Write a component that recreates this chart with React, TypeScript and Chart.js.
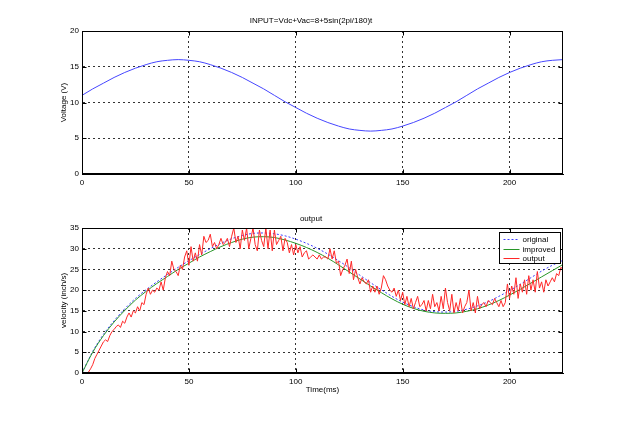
import React, { useEffect, useRef } from 'react';
import { Chart, registerables } from 'chart.js';

Chart.register(...registerables);

const FONT = '"Liberation Sans", Arial, Helvetica, sans-serif';

// ---------- data ----------
const sampleTimes = [0, 5, 10, 15, 20, 25, 30, 35, 40, 45, 50, 55, 60, 65, 70, 75, 80, 85, 90, 95, 100, 105, 110, 115, 120, 125, 130, 135, 140, 145, 150, 155, 160, 165, 170, 175, 180, 185, 190, 195, 200, 205, 210, 215, 220, 225];

const inputVoltage = [11.0, 11.9, 12.7, 13.5, 14.2, 14.8, 15.3, 15.7, 15.9, 16.0, 15.9, 15.7, 15.3, 14.8, 14.2, 13.5, 12.7, 11.9, 11.0, 10.1, 9.3, 8.5, 7.8, 7.2, 6.7, 6.3, 6.1, 6.0, 6.1, 6.3, 6.7, 7.2, 7.8, 8.5, 9.3, 10.1, 11.0, 11.9, 12.7, 13.5, 14.2, 14.8, 15.3, 15.7, 15.9, 16.0];

const originalVelocity = [0, 5.2, 9.3, 12.6, 15.5, 18.0, 20.1, 22.0, 23.8, 25.5, 27.1, 28.6, 30.0, 31.3, 32.4, 33.2, 33.7, 33.8, 33.6, 33.1, 32.3, 31.3, 30.1, 28.7, 27.1, 25.4, 23.6, 21.8, 20.1, 18.5, 17.1, 16.0, 15.2, 14.8, 14.7, 14.9, 15.4, 16.2, 17.2, 18.5, 19.9, 21.4, 23.0, 24.6, 26.0, 27.2];

const improvedVelocity = [0, 5.0, 9.0, 12.3, 15.1, 17.6, 19.7, 21.6, 23.3, 25.0, 26.5, 28.0, 29.3, 30.5, 31.5, 32.3, 32.8, 32.9, 32.7, 32.1, 31.3, 30.3, 29.1, 27.7, 26.1, 24.4, 22.7, 21.0, 19.4, 17.9, 16.6, 15.6, 14.9, 14.5, 14.4, 14.5, 14.9, 15.5, 16.4, 17.5, 18.8, 20.2, 21.7, 23.2, 24.7, 26.2];

const outputTimes = [
  0, 1, 2, 3, 4, 5, 6, 7, 8, 9, 10, 11, 12, 13, 14, 15, 16, 17, 18, 19,
  20, 21, 22, 23, 24, 25, 26, 27, 28, 29, 30, 31, 32, 33, 34, 35, 36, 37, 38, 39,
  40, 41, 42, 43, 44, 45, 46, 47, 48, 49, 50, 51, 52, 53, 54, 55, 56, 57, 58, 59,
  60, 61, 62, 63, 64, 65, 66, 67, 68, 69, 70, 71, 72, 73, 74, 75, 76, 77, 78, 79,
  80, 81, 82, 83, 84, 85, 86, 87, 88, 89, 90, 91, 92, 93, 94, 95, 96, 97, 98, 99,
  100, 101, 102, 103, 104, 105, 106, 107, 108, 109, 110, 111, 112, 113, 114, 115, 116, 117, 118, 119,
  120, 121, 122, 123, 124, 125, 126, 127, 128, 129, 130, 131, 132, 133, 134, 135, 136, 137, 138, 139,
  140, 141, 142, 143, 144, 145, 146, 147, 148, 149, 150, 151, 152, 153, 154, 155, 156, 157, 158, 159,
  160, 161, 162, 163, 164, 165, 166, 167, 168, 169, 170, 171, 172, 173, 174, 175, 176, 177, 178, 179,
  180, 181, 182, 183, 184, 185, 186, 187, 188, 189, 190, 191, 192, 193, 194, 195, 196, 197, 198, 199,
  200, 201, 202, 203, 204, 205, 206, 207, 208, 209, 210, 211, 212, 213, 214, 215, 216, 217, 218, 219,
  220, 221, 222, 223, 224, 225,
];

const outputVelocity = [
  0, 0, 0, 0.2, 1, 2, 3.5, 4.5, 5.5, 6.5, 7.5, 8, 7.6, 9, 10, 10.5, 11.2, 11.6, 11, 12.5,
  12, 13.5, 14.5, 13.5, 15, 14.5, 16, 15, 17, 16.5, 19, 20.5, 19, 20, 19.5, 20.5, 20, 22, 20, 23,
  24.5, 23.5, 27, 25, 24.5, 23.5, 26, 25, 28, 29.5, 26, 30.5, 27, 29, 27, 31, 28.5, 33, 31.5, 32,
  33.5, 30.5, 31.5, 30, 31, 32.5, 31, 31.5, 32.5, 30.5, 33, 35, 31.5, 33, 30, 34.5, 32, 35, 30, 32.5,
  35, 31, 29.5, 34.5, 32, 30.5, 35, 30, 34.5, 29.5, 34.5, 31, 32, 33, 29.5, 32.5, 31.5, 29, 31, 28.5,
  31, 29, 30.5, 28, 29, 29.5, 27.5, 28, 28.5, 28, 27.5, 28.5, 27.5, 28, 28, 27.5, 30, 27.5, 29.5, 26.5,
  27, 23.5, 25, 26, 27.5, 24, 27, 22.5, 25, 23, 21.5, 23, 22, 21.5, 22.5, 19.5, 21, 19.5, 21, 19,
  20.5, 23.5, 22.5, 21, 20, 19.5, 20.5, 18.5, 20, 17.5, 19.5, 16.5, 18.5, 16, 18, 15.5, 17, 18.5, 16, 16.5,
  17.5, 15, 17.5, 15.5, 19, 16, 17, 15, 18.5, 15.5, 20.5, 17, 15, 19, 14.5, 17, 15, 18, 14.5, 16,
  17, 20, 15, 17, 14.5, 18.5, 15.5, 16.5, 17, 16, 17.5, 17, 16.5, 18, 17, 16, 17.5, 16, 17, 21.5,
  18, 21, 19, 23, 18, 21.5, 19.5, 22.5, 19, 23.5, 20, 22.5, 19.5, 24.5, 20.5, 22, 19.5, 22.5, 21, 22,
  23, 22, 24, 23.5, 25.5, 25,
];

const voltageTicks = [0, 5, 10, 15, 20];
const velocityTicks = [0, 5, 10, 15, 20, 25, 30, 35];
const timeTicks = [0, 50, 100, 150, 200];

const legendLabels = ['original', 'improved', 'output'];

// ---------- helpers ----------
const pts = (xs: number[], ys: number[]) => ys.map((y, i) => ({ x: xs[i], y }));

const boxPlugin = {
  id: 'matlabBox',
  afterDraw(chart: any) {
    const { ctx, chartArea: a } = chart;
    ctx.save();
    ctx.strokeStyle = '#000';
    ctx.lineWidth = 1;
    ctx.setLineDash([]);
    const l = Math.round(a.left) + 0.5;
    const t = Math.round(a.top) + 0.5;
    const r = Math.round(a.right) - 0.5;
    const b = Math.round(a.bottom) - 0.5;
    ctx.strokeRect(l, t, r - l, b - t);
    const xs = chart.scales.x;
    const ys = chart.scales.y;
    ctx.beginPath();
    xs.ticks.forEach((tk: any) => {
      const px = Math.round(xs.getPixelForValue(tk.value)) + 0.5;
      ctx.moveTo(px, b); ctx.lineTo(px, b - 4);
      ctx.moveTo(px, t); ctx.lineTo(px, t + 4);
    });
    ys.ticks.forEach((tk: any) => {
      const py = Math.round(ys.getPixelForValue(tk.value)) + 0.5;
      ctx.moveTo(l, py); ctx.lineTo(l + 4, py);
      ctx.moveTo(r, py); ctx.lineTo(r - 4, py);
    });
    ctx.stroke();
    ctx.restore();
  },
};

const legendPlugin = {
  id: 'matlabLegend',
  afterDraw(chart: any, _args: any, opts: any) {
    if (!opts || !opts.show) return;
    const { ctx, chartArea: a } = chart;
    const w = 61, h = 31;
    const left = Math.round(a.right - 3 - w) + 0.5;
    const top = Math.round(a.top + 4) + 0.5;
    ctx.save();
    ctx.fillStyle = '#fff';
    ctx.fillRect(left, top, w, h);
    ctx.strokeStyle = '#000';
    ctx.lineWidth = 1;
    ctx.setLineDash([]);
    ctx.strokeRect(left, top, w, h);
    ctx.font = '8px ' + FONT;
    ctx.textBaseline = 'middle';
    ctx.fillStyle = '#000';
    const byLabel: any = {};
    chart.data.datasets.forEach((d: any) => { byLabel[d.label] = d; });
    legendLabels.forEach((lab, i) => {
      const d = byLabel[lab];
      const y = Math.round(top + 6.5 + i * 9.5) + 0.5;
      ctx.save();
      ctx.strokeStyle = d.borderColor;
      ctx.lineWidth = 1;
      ctx.setLineDash(d.borderDash || []);
      ctx.beginPath();
      ctx.moveTo(left + 4, y);
      ctx.lineTo(left + 20, y);
      ctx.stroke();
      ctx.restore();
      ctx.fillText(lab, left + 23, y);
    });
    ctx.restore();
  },
};

function scales(yTicks: number[], yMax: number, yTitle: string, xTitle: string | null, xHeight: number) {
  const tickFont = { size: 8, family: FONT, lineHeight: 1.25 };
  return {
    x: {
      type: 'linear' as const,
      min: 0,
      max: 225,
      afterBuildTicks: (s: any) => { s.ticks = timeTicks.map((v) => ({ value: v })); },
      afterFit: (s: any) => { s.height = xHeight; },
      grid: { color: '#333', lineWidth: 1, drawTicks: false },
      border: { display: true, color: '#000', dash: [2, 3] },
      ticks: { color: '#000', font: tickFont, padding: 4, maxRotation: 0, autoSkip: false },
      title: xTitle
        ? { display: true, text: xTitle, color: '#000', font: tickFont, padding: { top: 0, bottom: 0 } }
        : { display: false },
    },
    y: {
      type: 'linear' as const,
      min: 0,
      max: yMax,
      afterBuildTicks: (s: any) => { s.ticks = yTicks.map((v) => ({ value: v })); },
      afterFit: (s: any) => { s.width = 23; },
      grid: { color: '#333', lineWidth: 1, drawTicks: false },
      border: { display: true, color: '#000', dash: [2, 3] },
      ticks: { color: '#000', font: tickFont, padding: 3, autoSkip: false },
      title: { display: true, text: yTitle, color: '#000', font: tickFont, padding: { top: 0, bottom: 0 } },
    },
  };
}

export default function App() {
  const topRef = useRef<HTMLCanvasElement>(null);
  const botRef = useRef<HTMLCanvasElement>(null);

  useEffect(() => {
    const titleFont = { size: 8, family: FONT, weight: 'normal' as const, lineHeight: 1.25 };

    const c1 = new Chart(topRef.current as HTMLCanvasElement, {
      type: 'line',
      data: {
        datasets: [
          {
            label: 'input',
            data: pts(sampleTimes, inputVoltage),
            borderColor: 'rgb(70,70,255)',
            borderWidth: 1,
            pointRadius: 0,
            cubicInterpolationMode: 'monotone',
            fill: false,
          },
        ],
      },
      options: {
        responsive: false,
        animation: false,
        layout: { padding: { left: 59, right: 58, top: 0, bottom: 0 } },
        plugins: {
          legend: { display: false },
          tooltip: { enabled: false },
          title: {
            display: true,
            text: 'INPUT=Vdc+Vac=8+5sin(2pi/180)t',
            color: '#000',
            font: titleFont,
            padding: { top: 16, bottom: 5 },
          },
        } as any,
        scales: scales(voltageTicks, 20, 'Voltage (V)', null, 26) as any,
      },
      plugins: [boxPlugin],
    });

    const c2 = new Chart(botRef.current as HTMLCanvasElement, {
      type: 'line',
      data: {
        datasets: [
          {
            label: 'original',
            data: pts(sampleTimes, originalVelocity),
            borderColor: 'rgb(60,60,255)',
            borderDash: [2, 2],
            borderWidth: 1,
            pointRadius: 0,
            cubicInterpolationMode: 'monotone',
            fill: false,
            order: 2,
          },
          {
            label: 'improved',
            data: pts(sampleTimes, improvedVelocity),
            borderColor: 'rgb(40,150,40)',
            borderWidth: 1,
            pointRadius: 0,
            cubicInterpolationMode: 'monotone',
            fill: false,
            order: 1,
          },
          {
            label: 'output',
            data: pts(outputTimes, outputVelocity),
            borderColor: 'rgb(255,40,40)',
            borderWidth: 1,
            pointRadius: 0,
            tension: 0,
            fill: false,
            order: 0,
          },
        ],
      },
      options: {
        responsive: false,
        animation: false,
        layout: { padding: { left: 59, right: 58, top: 0, bottom: 26 } },
        plugins: {
          legend: { display: false },
          tooltip: { enabled: false },
          title: {
            display: true,
            text: 'output',
            color: '#000',
            font: titleFont,
            padding: { top: 14, bottom: 4 },
          },
          matlabLegend: { show: true },
        } as any,
        scales: scales(velocityTicks, 35, 'velocity (inch/s)', 'Time(ms)', 22) as any,
      },
      plugins: [boxPlugin, legendPlugin],
    });

    return () => {
      c1.destroy();
      c2.destroy();
    };
  }, []);

  return (
    <div style={{ position: 'absolute', left: 0, top: 0, width: 621, height: 421, background: '#fff' }}>
      <canvas
        ref={topRef}
        width={621}
        height={200}
        style={{ position: 'absolute', left: 0, top: 0, width: 621, height: 200 }}
      />
      <canvas
        ref={botRef}
        width={621}
        height={221}
        style={{ position: 'absolute', left: 0, top: 200, width: 621, height: 221 }}
      />
    </div>
  );
}
